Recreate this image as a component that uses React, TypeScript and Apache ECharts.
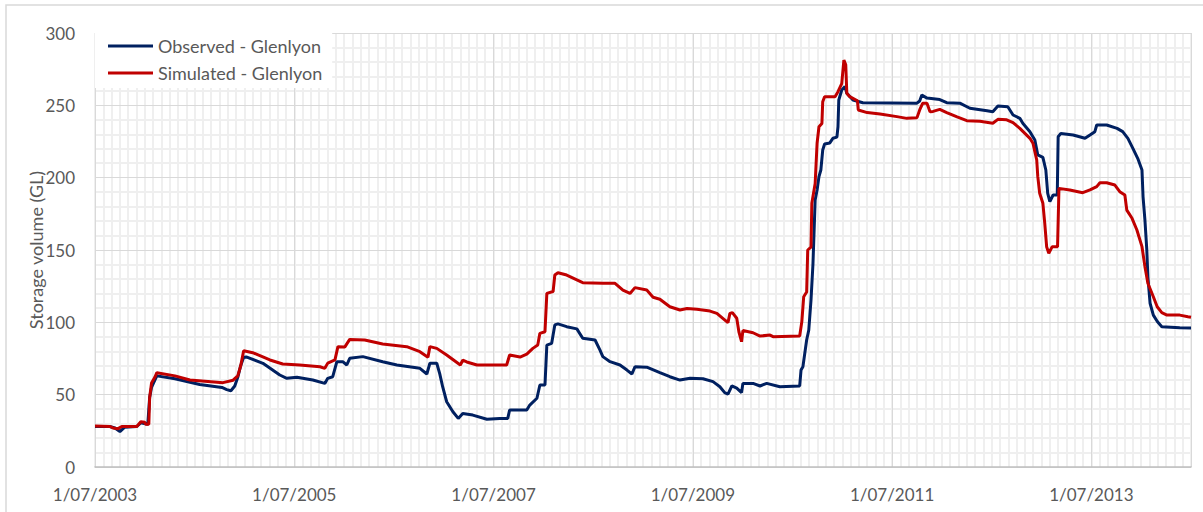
import React, { useEffect, useRef } from "react";
import * as echarts from "echarts";

// Observed storage at Glenlyon Dam (GL)
const observedDates = [
  "2003-07-01", "2003-08-25", "2003-09-13", "2003-10-01", "2003-10-19", "2003-12-02", "2003-12-17",
  "2004-01-12", "2004-01-19", "2004-01-26", "2004-02-07", "2004-02-14", "2004-04-20", "2004-07-20",
  "2004-10-10", "2004-10-28", "2004-11-12", "2004-11-26", "2004-12-07", "2004-12-18", "2004-12-29",
  "2005-01-10", "2005-03-08", "2005-05-09", "2005-06-04", "2005-07-11", "2005-09-08", "2005-10-22",
  "2005-11-02", "2005-11-20", "2005-12-05", "2005-12-27", "2006-01-11", "2006-01-22", "2006-03-09",
  "2006-05-21", "2006-07-12", "2006-10-05", "2006-10-31", "2006-11-11", "2006-12-06", "2006-12-17",
  "2006-12-28", "2007-01-12", "2007-02-04", "2007-02-22", "2007-03-10", "2007-04-16", "2007-06-07",
  "2007-07-24", "2007-08-23", "2007-08-30", "2007-11-01", "2007-11-12", "2007-12-08", "2007-12-19",
  "2008-01-07", "2008-01-14", "2008-02-01", "2008-02-12", "2008-02-23", "2008-03-26", "2008-05-02",
  "2008-05-24", "2008-07-08", "2008-07-26", "2008-08-06", "2008-09-02", "2008-10-08", "2008-11-03",
  "2008-11-21", "2008-12-02", "2009-01-15", "2009-03-02", "2009-04-08", "2009-05-15", "2009-06-21",
  "2009-08-08", "2009-09-14", "2009-10-09", "2009-10-27", "2009-11-08", "2009-11-22", "2009-12-10",
  "2009-12-28", "2010-01-02", "2010-02-08", "2010-03-04", "2010-03-29", "2010-05-16", "2010-07-28",
  "2010-08-02", "2010-08-09", "2010-08-23", "2010-08-31", "2010-09-08", "2010-09-15", "2010-09-23",
  "2010-09-30", "2010-10-07", "2010-10-14", "2010-10-21", "2010-10-28", "2010-11-16", "2010-11-27",
  "2010-12-12", "2010-12-16", "2010-12-19", "2010-12-30", "2011-01-11", "2011-01-18", "2011-02-09",
  "2011-03-16", "2011-10-01", "2011-10-11", "2011-10-19", "2011-11-07", "2011-12-24", "2012-01-19",
  "2012-03-06", "2012-04-12", "2012-06-14", "2012-07-05", "2012-07-24", "2012-08-30", "2012-09-18",
  "2012-10-13", "2012-10-24", "2012-11-19", "2012-12-07", "2012-12-18", "2013-01-06", "2013-01-17",
  "2013-01-24", "2013-02-01", "2013-02-12", "2013-02-26", "2013-03-01", "2013-03-11", "2013-04-25",
  "2013-06-08", "2013-06-26", "2013-07-14", "2013-07-21", "2013-08-27", "2013-10-04", "2013-10-25",
  "2013-11-13", "2013-12-01", "2013-12-19", "2014-01-04", "2014-01-08", "2014-01-15", "2014-01-22",
  "2014-01-26", "2014-02-03", "2014-02-14", "2014-02-28", "2014-03-16", "2014-05-21", "2014-07-01",
];
const observedStorage = [
  28, 28, 27, 24.5, 27.5, 28, 30.5,
  29.5, 48, 55, 60, 63, 61, 57,
  55, 53.5, 52.7, 56, 62, 70, 75.8,
  76, 71.7, 63.6, 61.3, 62, 60.1, 57.8,
  61.3, 62.4, 72.8, 72.8, 70.5, 75.1, 76.3,
  72.8, 70.5, 68.2, 64.3, 71.7, 71.7, 64.5,
  55.5, 45.1, 38.2, 33.6, 37, 35.9, 33,
  33.6, 33.6, 39.4, 39.4, 42.8, 47.5, 56.7,
  56.7, 84.3, 85.5, 98.2, 98.9, 97, 95.5,
  89, 87.8, 80.9, 76.3, 72.8, 70.5, 67,
  64.3, 69.3, 69, 65.2, 62.4, 60.1, 61.3,
  61, 59, 55.5, 51.4, 50.3, 56, 54.5,
  51.4, 57.8, 57.8, 56, 57.8, 55.5, 56,
  67, 69.3, 87.8, 94.7, 115.4, 140, 184.6,
  191.5, 200.7, 205.3, 219.1, 223.3, 224, 227.2,
  228, 235.2, 253.7, 260.6, 263, 258.3, 253.7,
  251.8, 251.5, 253, 257.1, 255, 254, 251.8,
  251.5, 248, 246.3, 245.5, 249.5, 249, 243.3,
  241, 237.6, 231.8, 226, 215.7, 214, 205.3,
  189.2, 183.4, 188, 188, 228.3, 230.6, 229.5,
  227.2, 229.5, 231.8, 236.4, 236.4, 234.1, 231.8,
  227.2, 220.3, 213.4, 205.3, 186.8, 170.7, 150,
  131.5, 113.2, 105, 100.4, 97, 96.2, 96,
];

// Simulated storage at Glenlyon Dam (GL)
const simulatedDates = [
  "2003-07-01", "2003-08-25", "2003-09-06", "2003-09-24", "2003-10-08", "2003-12-02", "2003-12-17",
  "2004-01-01", "2004-01-04", "2004-01-16", "2004-01-19", "2004-01-26", "2004-02-07", "2004-02-14",
  "2004-04-20", "2004-06-14", "2004-10-14", "2004-11-20", "2004-12-07", "2004-12-18", "2004-12-29",
  "2005-02-01", "2005-04-03", "2005-05-20", "2005-07-21", "2005-10-04", "2005-10-22", "2005-11-02",
  "2005-11-28", "2005-12-09", "2006-01-04", "2006-01-22", "2006-03-16", "2006-05-21", "2006-08-18",
  "2006-10-05", "2006-11-04", "2006-11-11", "2006-12-06", "2007-01-12", "2007-03-01", "2007-03-10",
  "2007-03-25", "2007-05-01", "2007-08-19", "2007-08-30", "2007-10-07", "2007-11-01", "2007-11-23",
  "2007-12-11", "2007-12-19", "2008-01-07", "2008-01-14", "2008-02-06", "2008-02-12", "2008-02-23",
  "2008-03-26", "2008-05-24", "2008-08-06", "2008-09-20", "2008-10-19", "2008-11-14", "2008-12-02",
  "2009-01-15", "2009-02-07", "2009-03-02", "2009-04-08", "2009-05-15", "2009-06-10", "2009-07-16",
  "2009-09-03", "2009-09-28", "2009-10-20", "2009-11-08", "2009-11-15", "2009-11-24", "2009-12-10",
  "2009-12-18", "2009-12-28", "2010-01-02", "2010-02-08", "2010-03-04", "2010-04-10", "2010-04-21",
  "2010-07-28", "2010-08-05", "2010-08-12", "2010-08-23", "2010-08-27", "2010-09-08", "2010-09-11",
  "2010-09-23", "2010-09-30", "2010-10-07", "2010-10-18", "2010-10-21", "2010-10-28", "2010-12-05",
  "2010-12-16", "2010-12-30", "2011-01-07", "2011-01-14", "2011-01-18", "2011-01-29", "2011-02-24",
  "2011-02-27", "2011-04-01", "2011-05-18", "2011-07-19", "2011-08-25", "2011-10-01", "2011-10-11",
  "2011-10-22", "2011-11-07", "2011-11-18", "2011-11-29", "2011-12-24", "2012-01-19", "2012-02-25",
  "2012-04-01", "2012-05-19", "2012-07-05", "2012-07-24", "2012-08-26", "2012-09-18", "2012-10-13",
  "2012-11-19", "2012-11-30", "2012-12-07", "2012-12-14", "2012-12-18", "2012-12-25", "2013-01-06",
  "2013-01-13", "2013-01-20", "2013-01-28", "2013-02-09", "2013-02-27", "2013-03-04", "2013-04-13",
  "2013-05-31", "2013-06-26", "2013-07-21", "2013-08-02", "2013-08-27", "2013-09-26", "2013-10-14",
  "2013-11-02", "2013-11-09", "2013-11-28", "2013-12-16", "2014-01-04", "2014-01-15", "2014-01-26",
  "2014-02-14", "2014-02-27", "2014-03-16", "2014-04-04", "2014-05-21", "2014-06-20", "2014-07-01",
];
const simulatedStorage = [
  28.3, 28, 27, 26.5, 28, 28, 31.3,
  31, 29.5, 29.5, 48, 58, 62, 65.2,
  63, 60.1, 58.3, 60, 63, 70, 80.4,
  79, 74, 71.2, 70.5, 69.3, 68.2, 71.8,
  74, 83.2, 83, 88.2, 87.8, 85, 83.2,
  79.7, 75.8, 83.2, 82, 77.4, 70.5, 73.8,
  72.6, 70.5, 70.5, 77.4, 76, 78, 82,
  84.3, 92.4, 93.5, 120, 121.3, 132.7, 134.3,
  132.7, 127.4, 127, 127, 122.3, 120, 124,
  122.3, 117.3, 116, 110.8, 108.5, 109.6, 109,
  107.8, 106.2, 102.8, 99.8, 106.2, 106.7, 102.8,
  93.5, 86.6, 94.3, 92.8, 90.5, 91.2, 90.1,
  90.5, 100.5, 117.7, 121, 150, 152, 182.3,
  196, 223.8, 235.2, 237.5, 252.5, 256, 256,
  259.4, 265, 281.3, 278, 258.3, 256, 253.2,
  246.8, 245, 244, 242.2, 241, 241.5, 246.8,
  251.4, 251.4, 245.5, 245.8, 247.2, 245, 242,
  239.4, 239, 237.6, 240.3, 240, 238, 234.1,
  227.2, 223.8, 218, 212.2, 200.7, 189.2, 182.3,
  168.4, 152.3, 147.7, 152.3, 152.3, 192.6, 191.5,
  189.6, 191.5, 193.8, 196.5, 196.5, 194.9, 190.3,
  188, 177.6, 171.9, 163.8, 152.3, 138.5, 127,
  117.7, 110.8, 106.7, 105, 105, 103.9, 103.5,
];

const seriesNames = ["Observed - Glenlyon", "Simulated - Glenlyon"];
const seriesColors = ["#002060", "#C00000"];

// Date axis labels, one every two years from the first of July 2003
const xTickLabels = ["1/07/2003", "1/07/2005", "1/07/2007", "1/07/2009", "1/07/2011", "1/07/2013"];
const yAxisTitle = "Storage volume (GL)";

// The x axis runs in months counted from 1 July 2003
const AXIS_START_YEAR = 2003;
const AXIS_START_MONTH = 7;
const AXIS_SPAN_MONTHS = 132;
const MONTHS_PER_LABEL = 24;

function monthOffset(iso: string): number {
  const [y, m, d] = iso.split("-").map(Number);
  const daysInMonth = new Date(Date.UTC(y, m, 0)).getUTCDate();
  return (y - AXIS_START_YEAR) * 12 + (m - AXIS_START_MONTH) + (d - 1) / daysInMonth;
}

function toPoints(dates: string[], values: number[]): [number, number][] {
  return dates.map((d, i) => [monthOffset(d), values[i]]);
}

const FONT = 'Lato, "Open Sans", sans-serif';
const TEXT_COLOR = "#595959";

export default function App() {
  const ref = useRef<HTMLDivElement>(null);

  useEffect(() => {
    if (!ref.current) return;
    const chart = echarts.init(ref.current, null, { renderer: "svg" });
    chart.setOption({
      animation: false,
      backgroundColor: "#ffffff",
      textStyle: { fontFamily: FONT },
      graphic: [
        {
          type: "rect",
          z: -10,
          shape: { x: 6, y: 5, width: 1220, height: 530 },
          style: { fill: "none", stroke: "#d9d9d9", lineWidth: 1.5 },
          silent: true,
        },
      ],
      grid: { left: 95, right: 12, top: 33, bottom: 45, containLabel: false },
      legend: {
        data: seriesNames,
        orient: "vertical",
        left: 95,
        top: 33,
        padding: [3, 10, 5, 13],
        itemGap: 7,
        itemWidth: 45,
        itemHeight: 3,
        icon: "rect",
        backgroundColor: "#ffffff",
        textStyle: { fontFamily: FONT, fontSize: 18, color: TEXT_COLOR, lineHeight: 20 },
      },
      xAxis: [
        {
          type: "value",
          min: 0,
          max: AXIS_SPAN_MONTHS,
          interval: MONTHS_PER_LABEL,
          z: 2,
          axisLine: { show: true, onZero: false, lineStyle: { color: "#bfbfbf", width: 1.5 } },
          axisTick: { show: false },
          axisLabel: {
            color: TEXT_COLOR,
            fontSize: 17,
            fontFamily: FONT,
            margin: 19,
            formatter: (v: number) => {
              const i = v / MONTHS_PER_LABEL;
              return Number.isInteger(i) && xTickLabels[i] ? xTickLabels[i] : "";
            },
          },
          splitLine: { show: true, lineStyle: { color: "#d9d9d9", width: 1 } },
        },
        {
          // monthly minor grid
          type: "value",
          min: 0,
          max: AXIS_SPAN_MONTHS,
          interval: 1,
          z: 0,
          position: "bottom",
          axisLine: { show: false },
          axisTick: { show: false },
          axisLabel: { show: false },
          splitLine: { show: true, lineStyle: { color: "#efefef", width: 2 } },
        },
      ],
      yAxis: {
        type: "value",
        min: 0,
        max: 300,
        interval: 50,
        z: 1,
        name: yAxisTitle,
        nameLocation: "middle",
        nameGap: 50,
        nameMoveOverlap: false,
        nameTextStyle: { color: TEXT_COLOR, fontSize: 18, fontFamily: FONT },
        axisLine: { show: false },
        axisTick: { show: false },
        axisLabel: { color: TEXT_COLOR, fontSize: 17, fontFamily: FONT, margin: 20 },
        splitLine: { show: true, lineStyle: { color: "#d9d9d9", width: 1 } },
        minorTick: { show: false, splitNumber: 5 },
        minorSplitLine: { show: true, lineStyle: { color: "#efefef", width: 2 } },
      },
      series: [
        {
          name: seriesNames[0],
          type: "line",
          xAxisIndex: 0,
          data: toPoints(observedDates, observedStorage),
          showSymbol: false,
          color: seriesColors[0],
          lineStyle: { color: seriesColors[0], width: 3 },
          z: 3,
        },
        {
          name: seriesNames[1],
          type: "line",
          xAxisIndex: 0,
          data: toPoints(simulatedDates, simulatedStorage),
          showSymbol: false,
          color: seriesColors[1],
          lineStyle: { color: seriesColors[1], width: 3 },
          z: 4,
        },
      ],
    });
    return () => chart.dispose();
  }, []);

  return (
    <div
      ref={ref}
      style={{ position: "fixed", left: 0, top: 0, width: 1203, height: 512 }}
    />
  );
}
